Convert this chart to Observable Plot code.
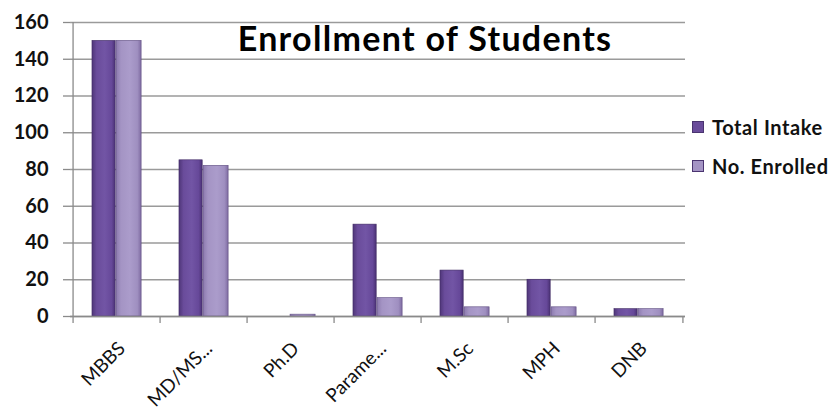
<!DOCTYPE html>
<html>
<head>
<meta charset="utf-8">
<script src="https://cdn.jsdelivr.net/npm/d3@7"></script>
<script src="https://cdn.jsdelivr.net/npm/@observablehq/plot@0.6"></script>
<style>
  html, body { margin: 0; padding: 0; background: #fff; }
  #wrap { position: relative; width: 834px; height: 410px; font-family: Lato, "Open Sans", sans-serif; }
  #legend { position: absolute; left: 692px; top: 116px; font-weight: bold; font-size: 20px; letter-spacing: 0.6px; color: #111; }
  #legend .item { display: flex; align-items: center; height: 22px; margin-bottom: 17px; white-space: nowrap; }
  #legend .sw { width: 12px; height: 12px; margin-right: 8px; border: 1px solid #4a3470; box-sizing: border-box; flex: none; }
  .chart-title { letter-spacing: 1.3px; }
</style>
</head>
<body>
<div id="wrap"><div id="chart"></div><div id="legend"></div></div>
<script>
const title = "Enrollment of Students";
const categories = ["MBBS", "MD/MS...", "Ph.D", "Parame...", "M.Sc", "MPH", "DNB"];
const totalIntake = [150, 85, 0, 50, 25, 20, 4];
const noEnrolled = [150, 82, 1, 10, 5, 5, 4];
const seriesNames = ["Total Intake", "No. Enrolled"];
const yTicks = [0, 20, 40, 60, 80, 100, 120, 140, 160];

const rowsTotal = categories.map((c, i) => ({category: c, value: totalIntake[i]}));
const rowsEnrolled = categories.map((c, i) => ({category: c, value: noEnrolled[i]}));

const W = 834, H = 410, mL = 70, mR = 149, mT = 22, mB = 94;
const bw = (W - mL - mR) / categories.length;

const chart = Plot.plot({
  width: W, height: H,
  marginLeft: mL, marginRight: mR, marginTop: mT, marginBottom: mB,
  style: {fontFamily: "Lato, 'Open Sans', sans-serif", color: "#111", background: "#fff"},
  x: {type: "band", domain: categories, padding: 0, axis: null, label: null},
  y: {domain: [0, 160], axis: null, label: null},
  marks: [
    Plot.gridY(yTicks, {stroke: "#9a9a9a", strokeOpacity: 1, strokeWidth: 1.3}),
    Plot.barY(rowsTotal.filter(d => d.value > 0), {x: "category", y: "value", fill: "url(#gTotal)", stroke: "#3f2a62", strokeWidth: 0.6, insetLeft: bw * 0.216, insetRight: bw - bw * 0.49}),
    Plot.barY(rowsEnrolled, {x: "category", y: "value", fill: "url(#gEnrolled)", stroke: "#5e4c80", strokeWidth: 0.6, insetLeft: bw * 0.49, insetRight: bw * 0.215}),
    // category boundary ticks (Excel style)
    Plot.ruleX(categories, {x: d => d, dx: -bw / 2, y1: 0, y2: 0, insetBottom: -7, stroke: "#8a8a8a", strokeWidth: 1.3}),
    Plot.ruleX(categories.slice(-1), {x: d => d, dx: bw / 2, y1: 0, y2: 0, insetBottom: -7, stroke: "#8a8a8a", strokeWidth: 1.3}),
    // vertical axis line
    Plot.ruleX(categories.slice(0, 1), {x: d => d, dx: -bw / 2, stroke: "#8a8a8a", strokeWidth: 1.3}),
    Plot.ruleY([0], {stroke: "#8a8a8a", strokeWidth: 1.5}),
    Plot.axisY({ticks: yTicks, label: null, tickSize: 7, tickPadding: 15, fontSize: 20, fontWeight: "bold", stroke: "#8a8a8a", strokeWidth: 1.3, fill: "#111"}),
    Plot.axisX({label: null, tickSize: 0, tickRotate: -45, tickPadding: 29, dx: 5, fontSize: 19, fill: "#111"}),
    Plot.text([title], {frameAnchor: "top", dx: 47, dy: 28, lineAnchor: "bottom", fontSize: 34, fontWeight: "bold", fill: "#000", className: "chart-title"})
  ]
});

// gradients for Excel-like bar shading
const defs = `
<defs>
  <linearGradient id="gTotal" x1="0" x2="1" y1="0" y2="0">
    <stop offset="0" stop-color="#4f3679"/>
    <stop offset="0.2" stop-color="#6a4c9b"/>
    <stop offset="0.55" stop-color="#7255a5"/>
    <stop offset="0.85" stop-color="#664899"/>
    <stop offset="1" stop-color="#4a3173"/>
  </linearGradient>
  <linearGradient id="gEnrolled" x1="0" x2="1" y1="0" y2="0">
    <stop offset="0" stop-color="#8c7aae"/>
    <stop offset="0.2" stop-color="#a494c4"/>
    <stop offset="0.55" stop-color="#ab9ccb"/>
    <stop offset="0.85" stop-color="#9f8fc0"/>
    <stop offset="1" stop-color="#7f6ca2"/>
  </linearGradient>
</defs>`;
chart.insertAdjacentHTML("afterbegin", defs);
document.getElementById("chart").appendChild(chart);

const swColors = ["#6a4c9b", "#a494c4"];
const legend = document.getElementById("legend");
seriesNames.forEach((name, i) => {
  const item = document.createElement("div");
  item.className = "item";
  item.innerHTML = `<span class="sw" style="background:${swColors[i]}"></span><span>${name}</span>`;
  legend.appendChild(item);
});
</script>
</body>
</html>
